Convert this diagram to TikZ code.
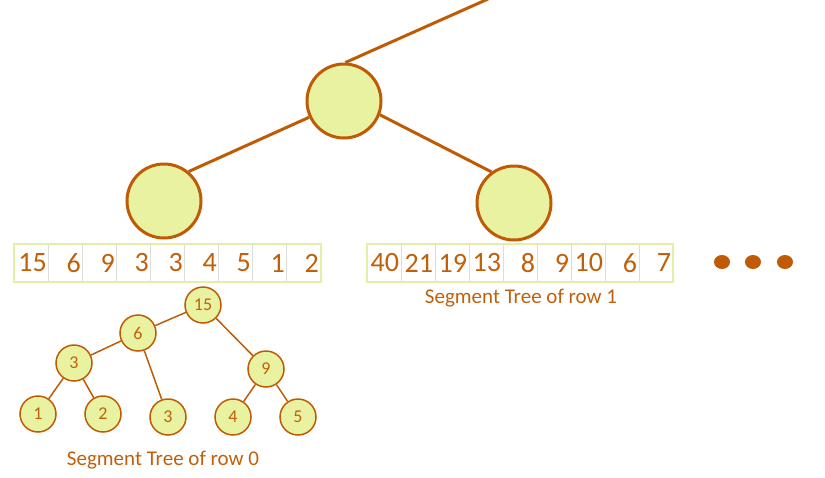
\documentclass[tikz,border=0pt]{standalone}
\usepackage{fontspec}
\setmainfont{Carlito}
\usetikzlibrary{shapes.geometric}
\definecolor{brn}{HTML}{BF5B05}
\definecolor{txt}{HTML}{C0600A}
\definecolor{nfill}{HTML}{E9F2A0}
\definecolor{abord}{HTML}{E4EEA8}
\definecolor{csep}{HTML}{DDDDDD}
\begin{document}
\begin{tikzpicture}[x=1pt,y=-1pt,
  big/.style={circle,draw=brn,fill=nfill,line width=3pt,minimum size=74pt,inner sep=0pt},
  sm/.style={circle,draw=brn,fill=nfill,line width=1.5pt,minimum size=36pt,inner sep=0pt,text=txt,font=\fontsize{18}{18}\selectfont},
  bigedge/.style={draw=brn,line width=3pt},
  smedge/.style={draw=brn,line width=1.5pt},
  cell/.style={draw=csep,line width=0.8pt,minimum width=34pt,minimum height=37pt,text width=30pt,align=right,inner sep=2pt,text=txt,font=\fontsize{28}{28}\selectfont},
  lbl/.style={text=txt,font=\fontsize{21}{21}\selectfont,inner sep=0pt},
  dot/.style={ellipse,fill=brn,minimum width=16pt,minimum height=14pt,inner sep=0pt}
]
\useasboundingbox (0,0) rectangle (825,477);
% big tree
\coordinate (far) at (488,-1);
\node[big] (top) at (344,101) {};
\node[big] (bl) at (164,201) {};
\node[big] (br) at (514,203) {};
\draw[bigedge] (top.88) -- (far);
\draw[bigedge] (top.205) -- (bl.50);
\draw[bigedge] (top.-21) -- (br.126);
% left array
\foreach \v [count=\i] in {15,6,9,3,3,4,5,1,2}{
  \node[cell] (l\i) at ({14.7+34*(\i-1)+17},263) {\v};
}
\draw[abord,line width=2pt] (l1.north west) rectangle (l9.south east);
% right array
\foreach \v [count=\i] in {40,21,19,13,8,9,10,6,7}{
  \node[cell] (r\i) at ({367+34*(\i-1)+17},263) {\v};
}
\draw[abord,line width=2pt] (r1.north west) rectangle (r9.south east);
\node[lbl] (lab1) at (521,298) {Segment Tree of row 1};
% dots
\node[dot] (d1) at (722,262) {};
\node[dot] (d2) at (753,262) {};
\node[dot] (d3) at (785,262) {};
% small tree
\node[sm] (s15) at (203,305) {15};
\node[sm] (s6) at (138,333) {6};
\node[sm] (s3) at (74,363) {3};
\node[sm] (s9) at (266,369) {9};
\node[sm] (s1) at (38,414) {1};
\node[sm] (s2) at (103,414) {2};
\node[sm] (s3b) at (168,417) {3};
\node[sm] (s4) at (233,417) {4};
\node[sm] (s5) at (298,417) {5};
\draw[smedge] (s15) -- (s6);
\draw[smedge] (s6) -- (s3);
\draw[smedge] (s6) -- (s3b);
\draw[smedge] (s15) -- (s9);
\draw[smedge] (s3) -- (s1);
\draw[smedge] (s3) -- (s2);
\draw[smedge] (s9) -- (s4);
\draw[smedge] (s9) -- (s5);
\node[lbl] (lab0) at (163,460) {Segment Tree of row 0};
\end{tikzpicture}
\end{document}
